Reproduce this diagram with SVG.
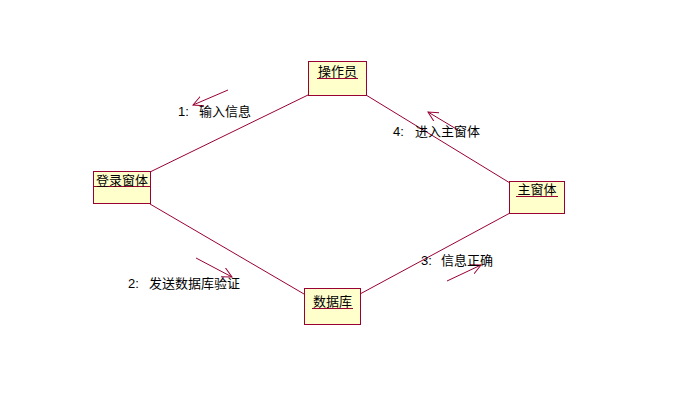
<svg xmlns="http://www.w3.org/2000/svg" width="685" height="403" viewBox="0 0 685 403">
<defs>
<marker id="ah" markerWidth="12" markerHeight="12" refX="10" refY="5" orient="auto" markerUnits="userSpaceOnUse">
<path d="M0,0 L10,5 L0,10" fill="none" stroke="#990033" stroke-width="1"/>
</marker>
</defs>
<style>
.box{fill:#ffffcc;stroke:#990033;stroke-width:1}
.ln{stroke:#990033;stroke-width:1;fill:none}
.t{font-family:"Liberation Sans","Noto Sans CJK SC",sans-serif;font-size:13px;fill:#000}
.u{stroke:#990033;stroke-width:1}
</style>
<rect width="685" height="403" fill="#fff"/>
<g id="connectors">
<line class="ln" x1="308" y1="95" x2="150" y2="172"/>
<line class="ln" x1="366" y1="95" x2="510" y2="183"/>
<line class="ln" x1="150" y1="204" x2="304" y2="294"/>
<line class="ln" x1="360" y1="294" x2="510" y2="213"/>
<line class="ln" x1="228" y1="90" x2="193" y2="105" marker-end="url(#ah)"/>
<line class="ln" x1="458" y1="130" x2="428" y2="112" marker-end="url(#ah)"/>
<line class="ln" x1="196" y1="258" x2="232" y2="277" marker-end="url(#ah)"/>
<line class="ln" x1="447" y1="281" x2="481" y2="265" marker-end="url(#ah)"/>
<text class="t" y="116"><tspan x="178">1:</tspan><tspan x="199">输入信息</tspan></text>
<text class="t" y="136"><tspan x="393">4:</tspan><tspan x="415">进入主窗体</tspan></text>
<text class="t" y="288"><tspan x="128">2:</tspan><tspan x="149">发送数据库验证</tspan></text>
<text class="t" y="265"><tspan x="421">3:</tspan><tspan x="441">信息正确</tspan></text>
</g>
<g id="operator">
<rect class="box" x="308.5" y="61.5" width="58" height="34"/>
<text class="t" x="337.5" y="76" text-anchor="middle">操作员</text>
<line class="u" x1="317" y1="78.5" x2="358" y2="78.5"/>
</g>
<g id="login">
<rect class="box" x="93.5" y="171.5" width="57" height="32"/>
<line class="u" x1="93.5" y1="186.5" x2="150.5" y2="186.5"/>
<text class="t" x="122" y="185" text-anchor="middle">登录窗体</text>
</g>
<g id="main">
<rect class="box" x="509.5" y="181.5" width="55" height="32"/>
<text class="t" x="537" y="194" text-anchor="middle">主窗体</text>
<line class="u" x1="516" y1="196.5" x2="558" y2="196.5"/>
</g>
<g id="db">
<rect class="box" x="304.5" y="288.5" width="56" height="36"/>
<text class="t" x="332.5" y="306" text-anchor="middle">数据库</text>
<line class="u" x1="312" y1="308.5" x2="353" y2="308.5"/>
</g>
</svg>
